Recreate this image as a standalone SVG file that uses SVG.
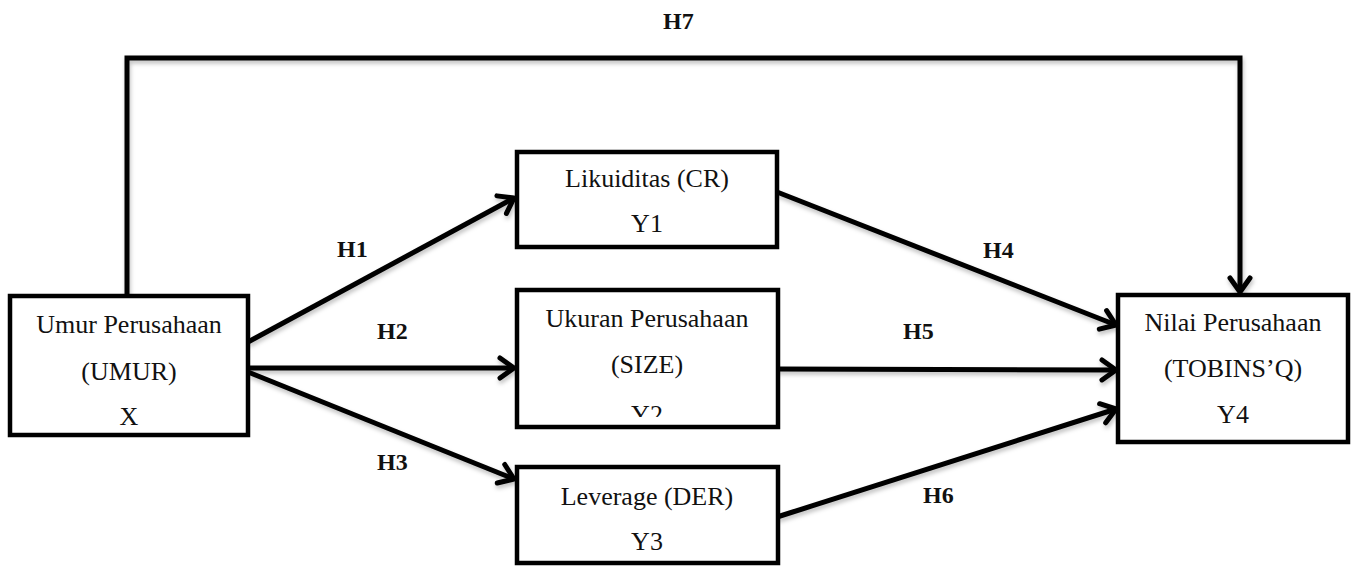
<svg xmlns="http://www.w3.org/2000/svg" width="1353" height="567" viewBox="0 0 1353 567">
<style>
.box{fill:#fff;stroke:#000;stroke-width:4.5}
.t{font-family:"Liberation Serif","Times New Roman",serif;font-size:26px;fill:#111;text-anchor:middle}
.h{font-family:"Liberation Serif","Times New Roman",serif;font-size:24px;font-weight:bold;fill:#111}
.ln{fill:none;stroke:#000;stroke-width:5}
</style>
<defs>
<marker id="arr" markerUnits="userSpaceOnUse" viewBox="-20 -15 25 30" refX="0" refY="0" markerWidth="25" markerHeight="30" orient="auto">
<path d="M-14,-10 L0,0 L-14,10" fill="none" stroke="#000" stroke-width="5" stroke-linecap="round" stroke-linejoin="round"/>
</marker>
<filter id="sh" x="-5%" y="-20%" width="110%" height="140%">
<feDropShadow dx="1" dy="3" stdDeviation="2" flood-color="#000" flood-opacity="0.25"/>
</filter>
<clipPath id="cy2"><rect x="517" y="290" width="261" height="127"/></clipPath>
</defs>
<g id="connectors" filter="url(#sh)">
<polyline class="ln" points="127,296 127,58 1240,58 1240,292" marker-end="url(#arr)"/>
<line class="ln" x1="248" y1="342" x2="514" y2="198" marker-end="url(#arr)"/>
<line class="ln" x1="248" y1="368" x2="514" y2="368" marker-end="url(#arr)"/>
<line class="ln" x1="248" y1="372" x2="514" y2="479" marker-end="url(#arr)"/>
<line class="ln" x1="777" y1="192" x2="1116" y2="325" marker-end="url(#arr)"/>
<line class="ln" x1="777" y1="369" x2="1116" y2="370" marker-end="url(#arr)"/>
<line class="ln" x1="777" y1="517" x2="1116" y2="409" marker-end="url(#arr)"/>
</g>
<g id="labels">
<text class="h" x="663" y="29">H7</text>
<text class="h" x="337" y="257">H1</text>
<text class="h" x="377" y="339">H2</text>
<text class="h" x="377" y="470">H3</text>
<text class="h" x="983" y="258">H4</text>
<text class="h" x="903" y="339">H5</text>
<text class="h" x="923" y="503">H6</text>
</g>
<g id="node-x">
<rect class="box" x="10" y="296" width="238" height="139"/>
<text class="t" x="129" y="333">Umur Perusahaan</text>
<text class="t" x="129" y="380">(UMUR)</text>
<text class="t" x="129" y="425">X</text>
</g>
<g id="node-y1">
<rect class="box" x="517" y="152" width="260" height="95"/>
<text class="t" x="647" y="187">Likuiditas (CR)</text>
<text class="t" x="647" y="232">Y1</text>
</g>
<g id="node-y2">
<rect class="box" x="517" y="290" width="261" height="137"/>
<text class="t" x="647" y="327">Ukuran Perusahaan</text>
<text class="t" x="647" y="373">(SIZE)</text>
<text class="t" x="647" y="423" clip-path="url(#cy2)">Y2</text>
</g>
<g id="node-y3">
<rect class="box" x="517" y="467" width="261" height="96"/>
<text class="t" x="647" y="505">Leverage (DER)</text>
<text class="t" x="647" y="550">Y3</text>
</g>
<g id="node-y4">
<rect class="box" x="1118" y="295" width="230" height="147"/>
<text class="t" x="1233" y="331">Nilai Perusahaan</text>
<text class="t" x="1233" y="377">(TOBINS’Q)</text>
<text class="t" x="1233" y="423">Y4</text>
</g>
</svg>
